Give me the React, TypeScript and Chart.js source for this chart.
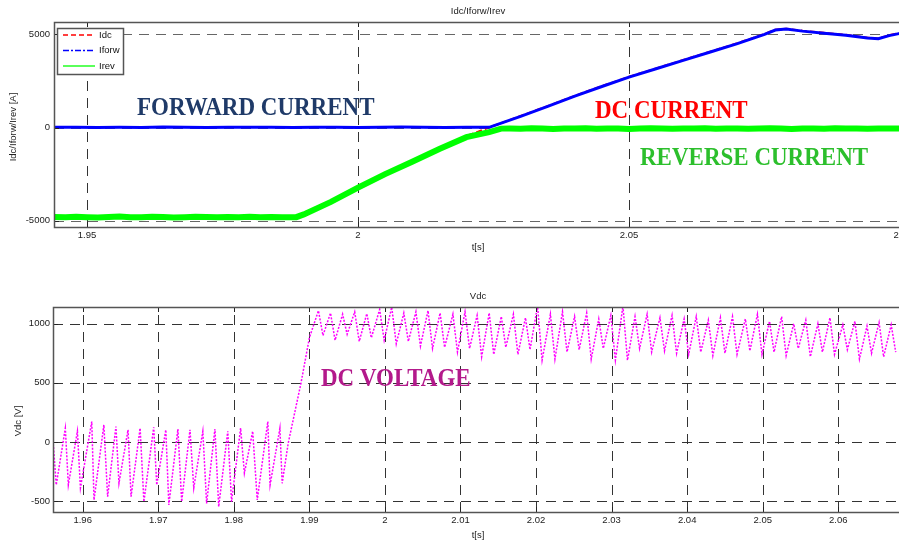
import React, { useEffect, useRef } from "react";
import { Chart, registerables } from "chart.js";
Chart.register(...registerables);

// ---------------- Top chart data (currents, A) ----------------
const irevT = [1.9439, 1.946, 1.948, 1.95, 1.952, 1.954, 1.956, 1.958, 1.96, 1.962, 1.964, 1.966, 1.968, 1.97, 1.972, 1.974, 1.976, 1.978, 1.98, 1.982, 1.984, 1.986, 1.988, 1.9886,
  1.99, 1.995, 2.0, 2.005, 2.01, 2.015, 2.02, 2.0242, 2.0264,
  2.028, 2.03, 2.032, 2.034, 2.036, 2.038, 2.04, 2.042, 2.044, 2.046, 2.048, 2.05, 2.052, 2.054, 2.056, 2.058, 2.06, 2.062, 2.064, 2.066, 2.068, 2.07, 2.072, 2.074, 2.076, 2.078, 2.08, 2.082, 2.084, 2.086, 2.088, 2.09, 2.092, 2.094, 2.096, 2.098, 2.1, 2.102, 2.104];
const irevV = [-4800, -4820, -4790, -4810, -4830, -4800, -4780, -4820, -4810, -4790, -4800, -4830, -4810, -4790, -4800, -4820, -4800, -4810, -4790, -4820, -4800, -4810, -4820, -4810,
  -4660, -3990, -3230, -2500, -1840, -1150, -520, -250, -60,
  -50, -70, -40, -60, -80, -50, -60, -40, -70, -60, -50, -80, -60, -40, -60, -70, -50, -60, -40, -70, -60, -50, -70, -60, -40, -60, -80, -50, -60, -70, -40, -60, -50, -70, -60, -50, -60, -70, -50];

const iforwT = [1.9439, 1.948, 1.952, 1.956, 1.96, 1.964, 1.968, 1.972, 1.976, 1.98, 1.984, 1.988, 1.992, 1.996, 2.0, 2.004, 2.008, 2.012, 2.016, 2.02, 2.0242,
  2.03, 2.035, 2.04, 2.045, 2.05, 2.055, 2.06, 2.065, 2.07, 2.075, 2.077, 2.079, 2.082, 2.086, 2.09, 2.094, 2.096, 2.098, 2.1, 2.104];
const iforwV = [10, 20, 0, 15, 5, 25, 10, 0, 20, 10, 15, 5, 20, 10, 0, 15, 25, 10, 5, 20, 10,
  600, 1130, 1680, 2200, 2700, 3150, 3600, 4050, 4500, 5000, 5230, 5280, 5170, 5060, 4950, 4800, 4760, 4930, 5050, 5100];

const idcT = [1.9439, 1.96, 1.975, 1.9886, 1.995, 2.0, 2.005, 2.01, 2.015, 2.02, 2.0242,
  2.03, 2.035, 2.04, 2.045, 2.05, 2.055, 2.06, 2.065, 2.07, 2.075, 2.077, 2.079, 2.082, 2.086, 2.09, 2.094, 2.096, 2.098, 2.1, 2.104];
const idcV = [-4760, -4770, -4760, -4760, -3930, -3170, -2440, -1780, -1090, -460, 0,
  620, 1150, 1700, 2220, 2720, 3170, 3620, 4070, 4520, 5020, 5250, 5300, 5190, 5080, 4970, 4820, 4780, 4950, 5070, 5120];

const topXRange = { min: 1.94391, max: 2.10406 };
const topXTickVals = [1.95, 2.0, 2.05, 2.1];
const topYRange = { min: -5338, max: 5660 };
const topYTickVals = [-5000, 0, 5000];

// ---------------- Bottom chart data (Vdc, V) ----------------
const vdcStartT = [1.956, 1.9565, 1.9577, 1.9581, 1.9593, 1.9597, 1.9612, 1.9615, 1.9628, 1.9633, 1.9644, 1.9648, 1.966, 1.9664, 1.9676, 1.9681, 1.9694, 1.9698, 1.971, 1.9714, 1.9726, 1.9731, 1.9742, 1.9747, 1.9759, 1.9764, 1.9775, 1.978, 1.9792, 1.9797, 1.9809, 1.9814, 1.9825, 1.9831, 1.9845, 1.9848, 1.9861, 1.9864, 1.9872, 1.9889, 1.99];
const vdcStartV = [74, -364, 116, -364, 90, -390, 172, -491, 144, -463, 130, -350, 102, -463, 116, -505, 124, -364, 102, -533, 108, -505, 102, -390, 90, -520, 108, -548, 90, -505, 116, -265, 90, -491, 172, -364, 116, -350, -11, 500, 880];

const vdcPeakT = [1.9912, 1.9928, 1.9944, 1.996, 1.9976, 1.9993, 2.0009, 2.0025, 2.0041, 2.0057, 2.0073, 2.009, 2.0106, 2.0122, 2.0138, 2.0154, 2.017, 2.0186, 2.0202, 2.0219, 2.0235, 2.0251, 2.0267, 2.0283, 2.0299, 2.0315, 2.0331, 2.0347, 2.0364, 2.038, 2.0396, 2.0412, 2.0428, 2.0444, 2.046, 2.0477, 2.0493, 2.0509, 2.0525, 2.0541, 2.0557, 2.0573, 2.0589, 2.0606, 2.0622, 2.0638, 2.0654, 2.067];
const vdcPeakV = [1110, 1090, 1080, 1100, 1085, 1120, 1140, 1090, 1100, 1110, 1090, 1080, 1100, 1070, 1090, 1060, 1080, 1050, 1150, 1080, 1100, 1060, 1090, 1040, 1070, 1150, 1060, 1080, 1050, 1070, 1040, 1060, 1030, 1050, 1060, 1040, 1080, 1020, 1060, 1000, 1030, 1000, 1050, 990, 1020, 980, 1010, 990];
const vdcTroughT = [1.9918, 1.9934, 1.995, 1.9966, 1.9982, 1.9999, 2.0015, 2.0031, 2.0047, 2.0063, 2.0079, 2.0096, 2.0112, 2.0128, 2.0144, 2.016, 2.0176, 2.0192, 2.0208, 2.0225, 2.0241, 2.0257, 2.0273, 2.0289, 2.0305, 2.0321, 2.0337, 2.0353, 2.037, 2.0386, 2.0402, 2.0418, 2.0434, 2.045, 2.0466, 2.0483, 2.0499, 2.0515, 2.0531, 2.0547, 2.0563, 2.0579, 2.0595, 2.0612, 2.0628, 2.0644, 2.066, 2.0676];
const vdcTroughV = [900, 860, 910, 850, 880, 860, 830, 850, 810, 790, 800, 760, 790, 720, 740, 800, 740, 780, 690, 700, 760, 780, 700, 790, 690, 690, 790, 760, 770, 750, 740, 760, 730, 750, 740, 770, 740, 760, 730, 790, 720, 760, 740, 780, 700, 750, 720, 760];

const botXRange = { min: 1.95607, max: 2.06883 };
const botXTickVals = [1.96, 1.97, 1.98, 1.99, 2.0, 2.01, 2.02, 2.03, 2.04, 2.05, 2.06];
const botYRange = { min: -593, max: 1141 };
const botYTickVals = [-500, 0, 500, 1000];

// ---------------- helpers ----------------
const SANS = '"Liberation Sans", Arial, sans-serif';
const SERIF = '"Liberation Serif", "Times New Roman", serif';
const fmt = (v: any) => String(Number(Number(v).toFixed(4)));
const pts = (t: number[], v: number[]) => t.map((x, i) => ({ x, y: v[i] }));
const merged = (...sets: [number[], number[]][]) =>
  sets.flatMap(([t, v]) => pts(t, v)).sort((a, b) => a.x - b.x);

type Txt = { text: string; x: number; y: number; color: string; font: string; align?: CanvasTextAlign; baseline?: CanvasTextBaseline; rotate?: boolean; sy?: number };

const overlay = {
  id: "overlay",
  beforeDatasetsDraw(chart: any, _a: any, o: any) {
    const { ctx, chartArea: ca, scales } = chart;
    ctx.save();
    ctx.lineWidth = 1;
    ctx.setLineDash([10, 7]);
    ctx.strokeStyle = o.gridColorX || "#333";
    scales.x.ticks.forEach((t: any) => {
      const px = Math.round(scales.x.getPixelForValue(t.value)) + 0.5;
      ctx.beginPath(); ctx.moveTo(px, ca.bottom); ctx.lineTo(px, ca.top); ctx.stroke();
    });
    ctx.strokeStyle = o.gridColorY || "#333";
    scales.y.ticks.forEach((t: any) => {
      const py = Math.round(scales.y.getPixelForValue(t.value)) + 0.5;
      ctx.beginPath(); ctx.moveTo(ca.left, py); ctx.lineTo(ca.right, py); ctx.stroke();
    });
    ctx.restore();
  },
  afterDatasetsDraw(chart: any, _a: any, o: any) {
    const { ctx, chartArea: ca, scales } = chart;
    ctx.save();
    ctx.setLineDash([]);
    ctx.strokeStyle = "#222";
    ctx.lineWidth = 1;
    scales.x.ticks.forEach((t: any) => {
      const px = Math.round(scales.x.getPixelForValue(t.value)) + 0.5;
      ctx.beginPath(); ctx.moveTo(px, ca.bottom); ctx.lineTo(px, ca.bottom - 5); ctx.stroke();
      ctx.beginPath(); ctx.moveTo(px, ca.top); ctx.lineTo(px, ca.top + 5); ctx.stroke();
    });
    scales.y.ticks.forEach((t: any) => {
      const py = Math.round(scales.y.getPixelForValue(t.value)) + 0.5;
      ctx.beginPath(); ctx.moveTo(ca.left, py); ctx.lineTo(ca.left + 5, py); ctx.stroke();
    });
    ctx.strokeStyle = "#555";
    ctx.lineWidth = 1.5;
    ctx.strokeRect(Math.round(ca.left) + 0.5, Math.round(ca.top) + 0.5, ca.right - ca.left, ca.bottom - ca.top);
    if (o.legend) {
      const L = o.legend;
      ctx.fillStyle = "#fff";
      ctx.fillRect(L.x, L.y, L.w, L.h);
      ctx.strokeStyle = "#555";
      ctx.lineWidth = 1.5;
      ctx.strokeRect(L.x + 0.5, L.y + 0.5, L.w, L.h);
      ctx.font = `9.5px ${SANS}`;
      ctx.textBaseline = "middle";
      ctx.textAlign = "left";
      L.items.forEach((it: any, i: number) => {
        const y = L.y + L.first + i * L.gap;
        ctx.strokeStyle = it.color;
        ctx.lineWidth = 1.3;
        ctx.setLineDash(it.dash);
        ctx.beginPath(); ctx.moveTo(L.x + 6, y); ctx.lineTo(L.x + 38, y); ctx.stroke();
        ctx.setLineDash([]);
        ctx.fillStyle = "#111";
        ctx.fillText(it.label, L.x + 42, y);
      });
    }
    ctx.restore();
  },
  afterDraw(chart: any, _a: any, o: any) {
    const ctx = chart.ctx;
    (o.texts || []).forEach((t: Txt) => {
      ctx.save();
      ctx.font = t.font;
      ctx.fillStyle = t.color;
      ctx.textAlign = t.align || "left";
      ctx.textBaseline = t.baseline || "alphabetic";
      ctx.translate(t.x, t.y);
      if (t.rotate) ctx.rotate(-Math.PI / 2);
      if (t.sy) ctx.scale(1, t.sy);
      ctx.fillText(t.text, 0, 0);
      ctx.restore();
    });
  },
};

const tickFont = { family: SANS, size: 9.5 };

function scalesFor(xr: any, xt: number[], yr: any, yt: number[], yWidth: number, xHeight: number, yPad: number, xPad: number) {
  return {
    x: {
      type: "linear",
      min: xr.min,
      max: xr.max,
      grid: { display: false, drawTicks: false },
      border: { display: false },
      ticks: { callback: fmt, font: tickFont, color: "#222", padding: xPad, maxRotation: 0, autoSkip: false },
      afterBuildTicks: (s: any) => { s.ticks = xt.map((value) => ({ value })); },
      afterFit: (s: any) => { s.height = xHeight; },
    },
    y: {
      type: "linear",
      min: yr.min,
      max: yr.max,
      grid: { display: false, drawTicks: false },
      border: { display: false },
      ticks: { callback: fmt, font: tickFont, color: "#222", padding: yPad, autoSkip: false },
      afterBuildTicks: (s: any) => { s.ticks = yt.map((value) => ({ value })); },
      afterFit: (s: any) => { s.width = yWidth; },
    },
  };
}

function topConfig(): any {
  return {
    type: "line",
    data: {
      datasets: [
        { label: "Idc", data: pts(idcT, idcV), borderColor: "#ff0000", borderWidth: 2, borderDash: [6, 3], pointRadius: 0, order: 3 },
        { label: "Iforw", data: pts(iforwT, iforwV), borderColor: "#0000ff", borderWidth: 3, pointRadius: 0, order: 1 },
        { label: "Irev", data: pts(irevT, irevV), borderColor: "#00ff00", borderWidth: 6, pointRadius: 0, order: 2 },
      ],
    },
    options: {
      responsive: false,
      animation: false,
      devicePixelRatio: 1,
      layout: { padding: { top: 22, left: 0, right: 8, bottom: 0 } },
      elements: { line: { tension: 0 } },
      plugins: {
        legend: { display: false },
        title: { display: false },
        tooltip: { enabled: false },
        overlay: {
          gridColorX: "#333",
          gridColorY: "#666",
          legend: {
            x: 57, y: 28, w: 66, h: 46, first: 7, gap: 15.5,
            items: [
              { label: "Idc", color: "#ff0000", dash: [5, 3] },
              { label: "Iforw", color: "#0000ff", dash: [6, 2, 2, 2] },
              { label: "Irev", color: "#00ff00", dash: [] },
            ],
          },
          texts: [
            { text: "Idc/Iforw/Irev", x: 478, y: 11, color: "#222", font: `9.5px ${SANS}`, align: "center", baseline: "middle" },
            { text: "t[s]", x: 478, y: 247, color: "#222", font: `9.5px ${SANS}`, align: "center", baseline: "middle" },
            { text: "Idc/Iforw/Irev [A]", x: 13, y: 127, color: "#222", font: `9.5px ${SANS}`, align: "center", baseline: "middle", rotate: true },
            { text: "FORWARD CURRENT", x: 137, y: 115, color: "#1f3a68", font: `bold 23px ${SERIF}`, sy: 1.08 },
            { text: "DC CURRENT", x: 595, y: 118, color: "#ff0000", font: `bold 23px ${SERIF}`, sy: 1.08 },
            { text: "REVERSE CURRENT", x: 640, y: 165, color: "#2cbf2c", font: `bold 23px ${SERIF}`, sy: 1.08 },
          ],
        },
      },
      scales: scalesFor(topXRange, topXTickVals, topYRange, topYTickVals, 54, 38, 4, 3),
    },
    plugins: [overlay],
  };
}

function bottomConfig(): any {
  return {
    type: "line",
    data: {
      datasets: [
        {
          label: "Vdc",
          data: merged([vdcStartT, vdcStartV], [vdcPeakT, vdcPeakV], [vdcTroughT, vdcTroughV]),
          borderColor: "#ff00ff",
          borderWidth: 1.5,
          borderDash: [2, 1.5],
          pointRadius: 0,
        },
      ],
    },
    options: {
      responsive: false,
      animation: false,
      devicePixelRatio: 1,
      layout: { padding: { top: 42, left: 0, right: 5, bottom: 0 } },
      elements: { line: { tension: 0 } },
      plugins: {
        legend: { display: false },
        title: { display: false },
        tooltip: { enabled: false },
        overlay: {
          gridColorX: "#333",
          gridColorY: "#333",
          texts: [
            { text: "Vdc", x: 478, y: 31, color: "#222", font: `9.5px ${SANS}`, align: "center", baseline: "middle" },
            { text: "t[s]", x: 478, y: 270, color: "#222", font: `9.5px ${SANS}`, align: "center", baseline: "middle" },
            { text: "Vdc [V]", x: 18, y: 156, color: "#222", font: `9.5px ${SANS}`, align: "center", baseline: "middle", rotate: true },
            { text: "DC VOLTAGE", x: 321, y: 121, color: "#b3198b", font: `bold 23px ${SERIF}`, sy: 1.08 },
          ],
        },
      },
      scales: scalesFor(botXRange, botXTickVals, botYRange, botYTickVals, 53, 33, 3, 3),
    },
    plugins: [overlay],
  };
}

function ChartCanvas({ make, width, height, top }: { make: () => any; width: number; height: number; top: number }) {
  const ref = useRef<HTMLCanvasElement>(null);
  useEffect(() => {
    const c = new Chart(ref.current as HTMLCanvasElement, make());
    return () => c.destroy();
  }, []);
  return (
    <canvas
      ref={ref}
      width={width}
      height={height}
      style={{ position: "absolute", left: 0, top, width, height, display: "block" }}
    />
  );
}

export default function App() {
  return (
    <div style={{ position: "fixed", left: 0, top: 0, width: 899, height: 545, overflow: "hidden", background: "#fff" }}>
      <ChartCanvas make={topConfig} width={930} height={265} top={0} />
      <ChartCanvas make={bottomConfig} width={910} height={280} top={265} />
    </div>
  );
}
